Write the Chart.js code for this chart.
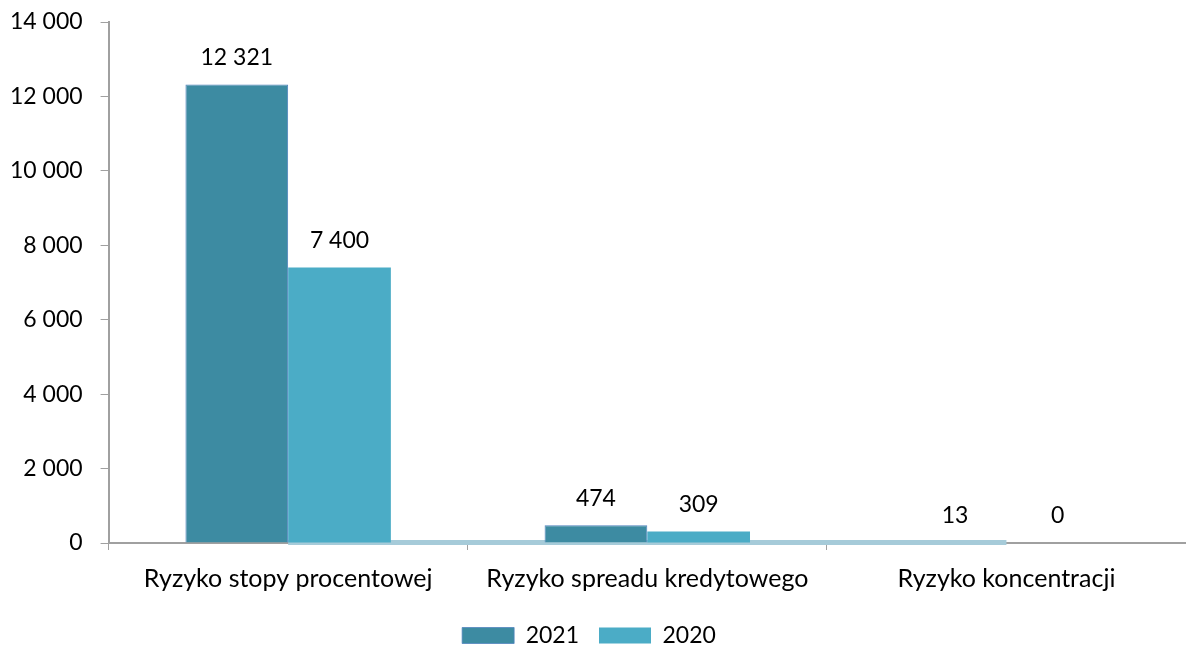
<!DOCTYPE html>
<html>
<head>
<meta charset="utf-8">
<script src="https://cdn.jsdelivr.net/npm/chart.js@4/dist/chart.umd.min.js"></script>
<style>
  html, body { margin: 0; padding: 0; background: #fff; overflow: hidden; }
  #wrap { width: 1186px; height: 657px; }
</style>
</head>
<body>
<div id="wrap"><canvas id="riskChart"></canvas></div>
<script>
const categories = ['Ryzyko stopy procentowej', 'Ryzyko spreadu kredytowego', 'Ryzyko koncentracji'];
const values2021 = [12321, 474, 13];
const values2020 = [7400, 309, 0];
const yTicks = [0, 2000, 4000, 6000, 8000, 10000, 12000, 14000];

const FONT = 'Lato, "Open Sans", sans-serif';

// numbers with a space as thousands separator, e.g. 12 321
const fmt = v => String(v).replace(/\B(?=(\d{3})+(?!\d))/g, ' ');

// light "floor" strip along the baseline, from the first to the last category centre
const floorStrip = {
    id: 'floorStrip',
    beforeDatasetsDraw(chart) {
        const x = chart.scales.x, y = chart.scales.y;
        const ctx = chart.ctx;
        const y0 = y.getPixelForValue(0);
        ctx.save();
        ctx.fillStyle = '#a6cbd9';
        ctx.fillRect(x.getPixelForValue(0), y0 - 3, x.getPixelForValue(categories.length - 1) - x.getPixelForValue(0), 5);
        ctx.restore();
    }
};

// value labels above each bar
const barLabels = {
    id: 'barLabels',
    afterDatasetsDraw(chart) {
        const ctx = chart.ctx;
        ctx.save();
        ctx.font = '23px ' + FONT;
        ctx.fillStyle = '#000';
        ctx.textAlign = 'center';
        ctx.textBaseline = 'middle';
        chart.data.datasets.forEach((ds, i) => {
            chart.getDatasetMeta(i).data.forEach((bar, j) => {
                ctx.fillText(fmt(ds.data[j]), bar.x, bar.y - 27);
            });
        });
        ctx.restore();
    }
};

const ctxRisk = document.getElementById('riskChart').getContext('2d');
new Chart(ctxRisk, {
    type: 'bar',
    data: {
        labels: categories,
        datasets: [{
            label: '2021',
            data: values2021,
            backgroundColor: '#3d8ba2',
            borderColor: '#4f81bd',
            borderWidth: { top: 1, left: 1, right: 1, bottom: 0 },
            categoryPercentage: 0.572,
            barPercentage: 1
        }, {
            label: '2020',
            data: values2020,
            backgroundColor: '#4bacc6',
            borderWidth: 0,
            categoryPercentage: 0.572,
            barPercentage: 1
        }]
    },
    options: {
        responsive: true,
        maintainAspectRatio: false,
        animation: false,
        layout: { padding: { top: 22, right: 0, left: -8, bottom: 0 } },
        plugins: {
            legend: {
                position: 'bottom',
                labels: {
                    boxWidth: 52,
                    boxHeight: 16,
                    padding: 20,
                    color: '#000',
                    font: { family: FONT, size: 23 }
                }
            },
            tooltip: { enabled: false }
        },
        scales: {
            x: {
                afterFit: axis => { axis.height -= 4; },
                grid: {
                    display: true,
                    drawOnChartArea: false,
                    offset: true,
                    tickLength: 7,
                    color: '#a0a0a0'
                },
                border: { color: '#a0a0a0', width: 2 },
                ticks: {
                    color: '#000',
                    padding: 14,
                    font: { family: FONT, size: 25 }
                }
            },
            y: {
                min: 0,
                max: 14000,
                afterBuildTicks: axis => { axis.ticks = yTicks.map(v => ({ value: v })); },
                afterFit: axis => { axis.paddingTop = 0; },
                grid: {
                    display: true,
                    drawOnChartArea: false,
                    tickLength: 8,
                    color: '#a0a0a0'
                },
                border: { color: '#a0a0a0', width: 2 },
                ticks: {
                    color: '#000',
                    padding: 18,
                    callback: v => fmt(v),
                    font: { family: FONT, size: 23 }
                }
            }
        }
    },
    plugins: [floorStrip, barLabels]
});
</script>
</body>
</html>
